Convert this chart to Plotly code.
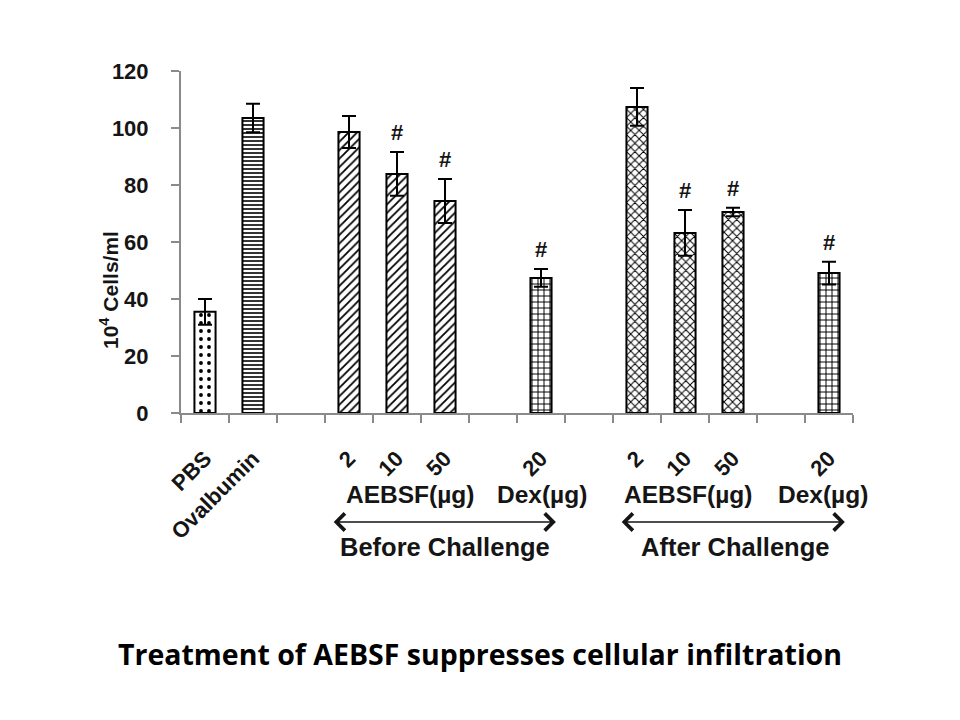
import plotly.graph_objects as go

# ---- data ----
labels = ["PBS", "Ovalbumin", "", "2", "10", "50", "", "20", "", "2", "10", "50", "", "20"]
values = [35.5, 103.5, None, 98.6, 83.9, 74.4, None, 47.4, None, 107.4, 63.2, 70.5, None, 49.1]
errors = [4.5, 5.0, None, 5.6, 7.7, 7.7, None, 3.1, None, 6.6, 8.0, 1.5, None, 4.0]
significant = [False, False, False, False, True, True, False, True, False, False, True, True, False, True]
patterns = [".", "-", "", "/", "/", "/", "", "+", "", "x", "x", "x", "", "+"]
pattern_sizes = [8, 4, 6, 6, 6, 6, 6, 6, 6, 6, 6, 6, 6, 6]
pattern_solidity = [0.18, 0.4, 0.3, 0.3, 0.3, 0.3, 0.3, 0.3, 0.3, 0.3, 0.3, 0.3, 0.3, 0.3]
y_ticks = [0, 20, 40, 60, 80, 100, 120]

groups = [  # (label, x position on category axis)
    ("AEBSF(µg)", 4.27), ("Dex(µg)", 7.02), ("AEBSF(µg)", 10.06), ("Dex(µg)", 12.88)]
phases = [("Before Challenge", 5.0, 2.65, 7.31), ("After Challenge", 11.04, 8.65, 13.33)]
title_text = "Treatment of AEBSF suppresses cellular infiltration"
y_title = "10<sup>4</sup> Cells/ml"

# unique category keys (zero-width spaces keep repeated labels distinct)
cats = [lab + "\u200b" * i for i, lab in enumerate(labels)]

W, H = 960, 720
L, R, T, B = 181, 107, 71, 307
plot_h = H - T - B


def py(pix):
    """pixel row -> paper y"""
    return (H - B - pix) / plot_h


FONT = "Liberation Sans, Arial, sans-serif"
INK = "#151515"

fig = go.Figure()
fig.add_trace(go.Bar(
    x=cats, y=values,
    marker=dict(
        color="white",
        line=dict(color="black", width=2),
        pattern=dict(shape=patterns, size=pattern_sizes, solidity=pattern_solidity,
                     fgcolor="black", bgcolor="white", fillmode="replace"),
    ),
    error_y=dict(type="data", array=errors, symmetric=True, color="black",
                 thickness=2, width=7),
    showlegend=False,
))

annotations = []
for c, v, e, s in zip(cats, values, errors, significant):
    if s and v is not None:
        annotations.append(dict(x=c, y=v + e, xref="x", yref="y", text="#",
                                showarrow=False, xanchor="center", yanchor="bottom", yshift=5,
                                font=dict(family=FONT, size=22, color=INK, weight="bold")))
for txt, xpos in groups:
    annotations.append(dict(x=xpos, y=py(494), xref="x", yref="paper", text=txt,
                            showarrow=False, xanchor="center", yanchor="middle",
                            font=dict(family=FONT, size=24.5, color=INK, weight="bold")))
for txt, xc, x0, x1 in phases:
    annotations.append(dict(x=xc, y=py(547), xref="x", yref="paper", text=txt,
                            showarrow=False, xanchor="center", yanchor="middle",
                            font=dict(family=FONT, size=25.5, color=INK, weight="bold")))
    annotations.append(dict(x=x1, y=py(522), xref="x", yref="paper", ax=x0, ay=0,
                            axref="x", ayref="pixel", text="", showarrow=True,
                            arrowside="end+start", arrowhead=4, startarrowhead=4,
                            arrowsize=2.2, startarrowsize=2.2, arrowwidth=1.5,
                            arrowcolor=INK))
annotations.append(dict(x=-(L - 109) / (W - L - R), y=py(290), xref="paper", yref="paper",
                        text=y_title, textangle=-90, showarrow=False,
                        xanchor="center", yanchor="middle",
                        font=dict(family=FONT, size=21, color=INK, weight="bold")))

fig.update_layout(
    width=W, height=H, autosize=False,
    margin=dict(l=L, r=R, t=T, b=B, pad=0),
    paper_bgcolor="white", plot_bgcolor="white",
    bargap=0.56,
    title=dict(text=title_text, x=0.5, xref="container", xanchor="center",
               y=1 - 655 / H, yref="container", yanchor="middle",
               font=dict(family="Open Sans, sans-serif", size=28.5, color="black",
                         weight="bold")),
    annotations=annotations,
    font=dict(family=FONT, color=INK),
)
fig.update_xaxes(
    type="category", categoryorder="array", categoryarray=cats,
    tickson="boundaries", ticks="outside", ticklen=8, tickwidth=1.5, tickcolor="#8a8a8a",
    showline=True, linecolor="#8a8a8a", linewidth=2, showgrid=False,
    tickangle=-45, tickfont=dict(family=FONT, size=22, color=INK, weight="bold"),
    ticklabelstandoff=22, automargin=False, range=[-0.5, 13.5],
)
fig.update_yaxes(
    range=[0, 120], tickvals=y_ticks, ticks="outside", ticklen=8, tickwidth=1.5,
    tickcolor="#8a8a8a", showline=True, linecolor="#8a8a8a", linewidth=2,
    showgrid=False, zeroline=False,
    tickfont=dict(family=FONT, size=22, color=INK, weight="bold"),
    ticklabelstandoff=18, automargin=False,
)
fig.write_html("out.html")
